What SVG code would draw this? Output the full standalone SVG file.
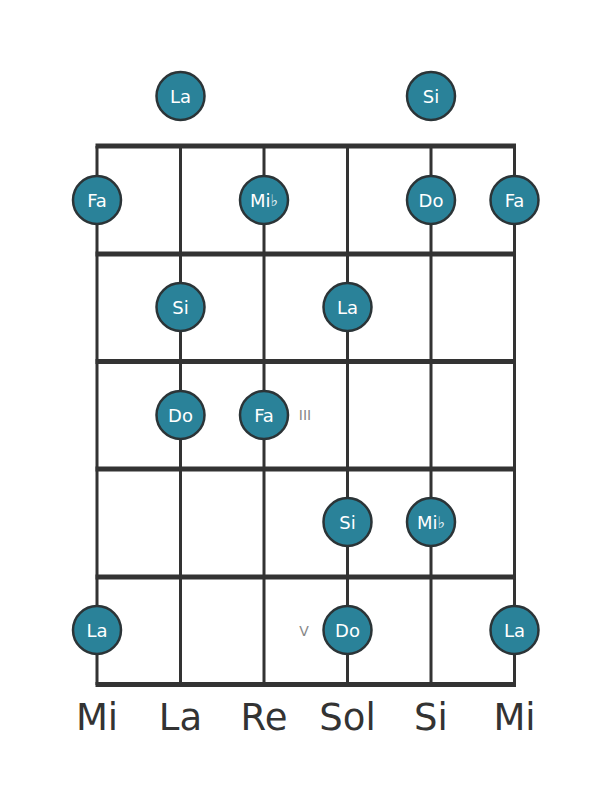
<svg xmlns="http://www.w3.org/2000/svg" width="611" height="801" viewBox="0 0 611 801">
<style>
.fret{stroke:#333;stroke-width:5;fill:none}
.str{stroke:#333;stroke-width:3;fill:none}
.dot{fill:#2a8299;stroke:#2b3437;stroke-width:2.5}
.nt{font-family:"DejaVu Sans",sans-serif;font-size:18px;fill:#fff;text-anchor:middle;dominant-baseline:central}
.fl{font-size:16px;fill:#e8f4f8}
.sn{font-family:"DejaVu Sans",sans-serif;font-size:37px;fill:#333;text-anchor:middle}
.rn{font-family:"DejaVu Sans",sans-serif;font-size:14px;fill:#888;text-anchor:middle;dominant-baseline:central}
</style>
<rect width="611" height="801" fill="#fff"/>
<g id="connectors">
<line class="str" x1="97" y1="146" x2="97" y2="685"/>
<line class="str" x1="180.5" y1="146" x2="180.5" y2="685"/>
<line class="str" x1="264" y1="146" x2="264" y2="685"/>
<line class="str" x1="347.5" y1="146" x2="347.5" y2="685"/>
<line class="str" x1="431" y1="146" x2="431" y2="685"/>
<line class="str" x1="514.5" y1="146" x2="514.5" y2="685"/>
<line class="fret" x1="95.5" y1="146" x2="516" y2="146"/>
<line class="fret" x1="95.5" y1="254" x2="516" y2="254"/>
<line class="fret" x1="95.5" y1="361.5" x2="516" y2="361.5"/>
<line class="fret" x1="95.5" y1="469" x2="516" y2="469"/>
<line class="fret" x1="95.5" y1="577" x2="516" y2="577"/>
<line class="fret" x1="95.5" y1="684.5" x2="516" y2="684.5"/>
</g>
<g id="n-open-la"><circle class="dot" cx="180.5" cy="96" r="24"/><text class="nt" x="180.5" y="96">La</text></g>
<g id="n-open-si"><circle class="dot" cx="431" cy="96" r="24"/><text class="nt" x="431" y="96">Si</text></g>
<g id="n-1-fa1"><circle class="dot" cx="97" cy="200" r="24"/><text class="nt" x="97" y="200">Fa</text></g>
<g id="n-1-mib"><circle class="dot" cx="264" cy="200" r="24"/><text class="nt" x="264" y="200">Mi<tspan class="fl">♭</tspan></text></g>
<g id="n-1-do"><circle class="dot" cx="431" cy="200" r="24"/><text class="nt" x="431" y="200">Do</text></g>
<g id="n-1-fa2"><circle class="dot" cx="514.5" cy="200" r="24"/><text class="nt" x="514.5" y="200">Fa</text></g>
<g id="n-2-si"><circle class="dot" cx="180.5" cy="307" r="24"/><text class="nt" x="180.5" y="307">Si</text></g>
<g id="n-2-la"><circle class="dot" cx="347.5" cy="307" r="24"/><text class="nt" x="347.5" y="307">La</text></g>
<g id="n-3-do"><circle class="dot" cx="180.5" cy="415" r="24"/><text class="nt" x="180.5" y="415">Do</text></g>
<g id="n-3-fa"><circle class="dot" cx="264" cy="415" r="24"/><text class="nt" x="264" y="415">Fa</text></g>
<g id="n-4-si"><circle class="dot" cx="347.5" cy="522" r="24"/><text class="nt" x="347.5" y="522">Si</text></g>
<g id="n-4-mib"><circle class="dot" cx="431" cy="522" r="24"/><text class="nt" x="431" y="522">Mi<tspan class="fl">♭</tspan></text></g>
<g id="n-5-la1"><circle class="dot" cx="97" cy="630" r="24"/><text class="nt" x="97" y="630">La</text></g>
<g id="n-5-do"><circle class="dot" cx="347.5" cy="630" r="24"/><text class="nt" x="347.5" y="630">Do</text></g>
<g id="n-5-la2"><circle class="dot" cx="514.5" cy="630" r="24"/><text class="nt" x="514.5" y="630">La</text></g>
<g id="fret-markers">
<text class="rn" x="305" y="415">III</text>
<text class="rn" x="304" y="631">V</text>
</g>
<g id="string-names">
<text class="sn" x="97" y="730">Mi</text>
<text class="sn" x="180.5" y="730">La</text>
<text class="sn" x="264" y="730">Re</text>
<text class="sn" x="347.5" y="730">Sol</text>
<text class="sn" x="431" y="730">Si</text>
<text class="sn" x="514.5" y="730">Mi</text>
</g>
</svg>
